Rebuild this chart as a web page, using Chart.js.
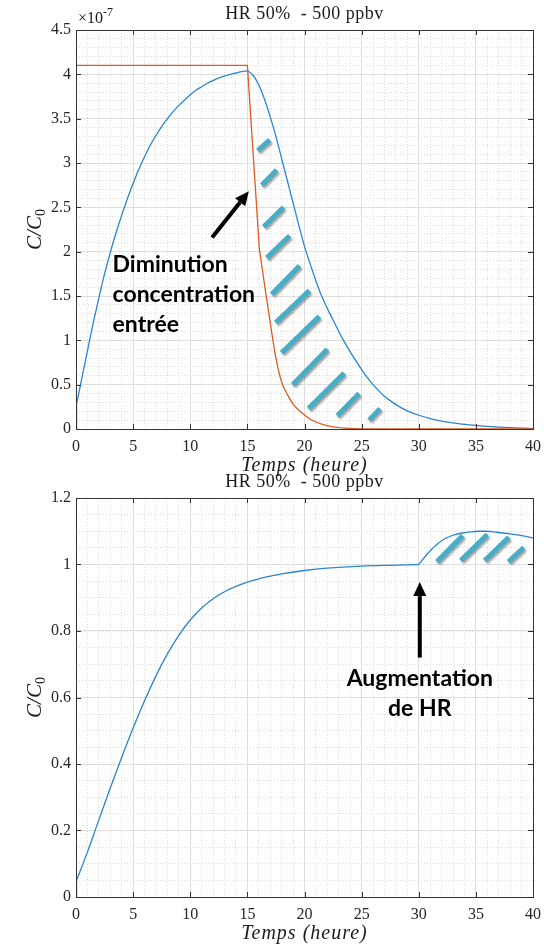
<!DOCTYPE html>
<html lang="fr">

<head>
    <meta charset="UTF-8" />
    <title>HR 50% - 500 ppbv</title>
    <script src="https://cdn.jsdelivr.net/npm/chart.js"></script>
    <style>
        body {
            margin: 0;
            background: #fff;
        }

        .page {
            position: relative;
            width: 549px;
            height: 945px;
        }

        .page canvas {
            position: absolute;
            left: 0;
        }

        #chartTop {
            top: 0;
        }

        #chartBottom {
            top: 465px;
        }
    </style>
</head>

<body>
    <div class="page">
        <canvas id="chartTop" width="549" height="480"></canvas>
        <canvas id="chartBottom" width="549" height="480"></canvas>
    </div>

    <script>
        // axis ticks
        const xTicks = [0, 5, 10, 15, 20, 25, 30, 35, 40];
        const yTicksTop = [0, 0.5, 1, 1.5, 2, 2.5, 3, 3.5, 4, 4.5]; // x 1e-7
        const yTicksBottom = [0, 0.2, 0.4, 0.6, 0.8, 1, 1.2];

        // top plot: outlet (blue), values in units of 1e-7
        const tTopStart = [0, 0.05];
        const cTopStart = [0, 0.28];
        const tTopRise = [0.05, 1, 1.5, 2, 2.5, 3, 3.5, 4, 4.5, 5, 5.5, 6, 6.5, 7, 7.5, 8, 8.5, 9, 9.5, 10, 10.5, 11, 11.5, 12, 12.5, 13, 13.5, 14, 14.5, 15];
        const cTopRise = [0.28, 0.88, 1.19, 1.48, 1.75, 1.99, 2.21, 2.41, 2.6, 2.77, 2.93, 3.07, 3.2, 3.31, 3.41, 3.5, 3.58, 3.65, 3.71, 3.77, 3.82, 3.86, 3.9, 3.93, 3.96, 3.98, 4.0, 4.015, 4.03, 4.04];
        const tTopFall = [15, 15.5, 16, 16.5, 17, 17.5, 18, 18.5, 19, 19.5, 20, 20.5, 21, 21.5, 22, 22.5, 23, 23.5, 24, 24.5, 25, 25.5, 26, 26.5, 27, 27.5, 28, 29, 30, 31, 32, 33, 34, 35, 36, 37, 38, 39, 40];
        const cTopFall = [4.04, 3.99, 3.88, 3.72, 3.52, 3.3, 3.05, 2.8, 2.55, 2.3, 2.06, 1.86, 1.67, 1.5, 1.36, 1.23, 1.1, 0.98, 0.87, 0.77, 0.67, 0.58, 0.5, 0.43, 0.37, 0.32, 0.275, 0.205, 0.155, 0.118, 0.09, 0.068, 0.052, 0.04, 0.03, 0.022, 0.015, 0.009, 0.005];

        // top plot: inlet concentration (orange)
        const tInletHold = [0, 15, 16.05];
        const cInletHold = [4.1, 4.1, 2.03];
        const tInletDecay = [16.05, 16.5, 17, 17.5, 18, 18.5, 19, 19.8, 20.5, 21.5, 22.5, 24, 26, 40];
        const cInletDecay = [2.03, 1.63, 1.2, 0.8, 0.53, 0.39, 0.28, 0.18, 0.11, 0.055, 0.025, 0.006, 0, 0];

        // bottom plot: C/C0, humidity step at 30 h
        const tBotStart = [0, 0.05];
        const cBotStart = [0, 0.05];
        const tBotRise = [0.05, 1, 2, 3, 4, 5, 6, 7, 8, 9, 10, 11, 12, 13, 14, 15, 16, 17, 18, 20, 22, 25, 28, 30];
        const cBotRise = [0.05, 0.135, 0.232, 0.328, 0.42, 0.508, 0.59, 0.665, 0.731, 0.787, 0.833, 0.869, 0.897, 0.918, 0.934, 0.947, 0.957, 0.965, 0.972, 0.982, 0.989, 0.995, 0.998, 1.0];
        const tBotBump = [30, 30.8, 31.5, 32.2, 33, 33.7, 34.5, 35.2, 36, 36.8, 38, 39, 40];
        const cBotBump = [1.0, 1.034, 1.058, 1.076, 1.088, 1.094, 1.098, 1.1, 1.1, 1.097, 1.092, 1.087, 1.08];

        // hand-drawn hatching between curves: [t1, c1, t2, c2]
        const hatchTop = [
            [15.91, 3.14, 16.96, 3.26],
            [16.26, 2.75, 17.57, 2.92],
            [16.43, 2.28, 18.17, 2.5],
            [16.7, 1.93, 18.7, 2.18],
            [17.13, 1.52, 19.57, 1.84],
            [17.48, 1.2, 20.43, 1.56],
            [18.0, 0.86, 21.3, 1.27],
            [18.96, 0.5, 22.0, 0.9],
            [20.35, 0.23, 23.48, 0.63],
            [22.87, 0.15, 24.78, 0.4],
            [25.65, 0.1, 26.61, 0.23]
        ];
        const hatchBottom = [
            [31.59, 1.008, 33.85, 1.087],
            [33.68, 1.012, 36.0, 1.09],
            [35.77, 1.012, 37.89, 1.082],
            [37.85, 1.008, 39.19, 1.051]
        ];

        const SERIF = '"Liberation Serif", "DejaVu Serif", serif';
        const BLUE = '#2a86cf';
        const ORANGE = '#de5a22';
        const HATCH = '#46aec6';

        function pts(t, c) {
            return t.map((v, i) => ({ x: v, y: c[i] }));
        }

        function drawArrow(ctx, x0, y0, x1, y1) {
            const ang = Math.atan2(y1 - y0, x1 - x0);
            const head = 14, half = 6.5;
            const bx = x1 - head * Math.cos(ang);
            const by = y1 - head * Math.sin(ang);
            ctx.save();
            ctx.strokeStyle = '#000';
            ctx.fillStyle = '#000';
            ctx.lineWidth = 4;
            ctx.beginPath();
            ctx.moveTo(x0, y0);
            ctx.lineTo(bx, by);
            ctx.stroke();
            ctx.beginPath();
            ctx.moveTo(x1, y1);
            ctx.lineTo(bx + half * Math.sin(ang), by - half * Math.cos(ang));
            ctx.lineTo(bx - half * Math.sin(ang), by + half * Math.cos(ang));
            ctx.closePath();
            ctx.fill();
            ctx.restore();
        }

        // box, inward ticks, titles and the annotations on top of the plot
        function makeFrame(cfg) {
            return {
                id: 'frame',
                afterDraw(chart) {
                    const { ctx, chartArea: a, scales } = chart;
                    const x = scales.x, y = scales.y;
                    const px = v => x.getPixelForValue(v);
                    const py = v => y.getPixelForValue(v);
                    const cx = (a.left + a.right) / 2;
                    ctx.save();

                    // hatching
                    ctx.strokeStyle = HATCH;
                    ctx.lineWidth = 5;
                    ctx.shadowColor = 'rgba(0,0,0,0.35)';
                    ctx.shadowOffsetX = 1.5;
                    ctx.shadowOffsetY = 2;
                    ctx.shadowBlur = 2;
                    cfg.hatch.forEach(h => {
                        ctx.beginPath();
                        ctx.moveTo(px(h[0]), py(h[1]));
                        ctx.lineTo(px(h[2]), py(h[3]));
                        ctx.stroke();
                    });
                    ctx.shadowColor = 'transparent';

                    // arrow + note
                    const ar = cfg.arrow;
                    drawArrow(ctx, px(ar[0]), py(ar[1]), px(ar[2]), py(ar[3]));
                    ctx.fillStyle = '#000';
                    ctx.font = 'bold 23px Lato, "Open Sans", sans-serif';
                    ctx.textAlign = cfg.note.align;
                    ctx.textBaseline = 'alphabetic';
                    cfg.note.lines.forEach((s, i) => {
                        ctx.fillText(s, px(cfg.note.at[0]), py(cfg.note.at[1]) + i * 30);
                    });

                    // inward ticks and box
                    ctx.strokeStyle = '#333';
                    ctx.lineWidth = 1;
                    ctx.beginPath();
                    xTicks.forEach(v => {
                        const p = Math.round(px(v)) + 0.5;
                        ctx.moveTo(p, a.bottom); ctx.lineTo(p, a.bottom - 5);
                        ctx.moveTo(p, a.top); ctx.lineTo(p, a.top + 5);
                    });
                    cfg.yTicks.forEach(v => {
                        const p = Math.round(py(v)) + 0.5;
                        ctx.moveTo(a.left, p); ctx.lineTo(a.left + 5, p);
                        ctx.moveTo(a.right, p); ctx.lineTo(a.right - 5, p);
                    });
                    ctx.stroke();
                    ctx.strokeRect(Math.round(a.left) + 0.5, Math.round(a.top) + 0.5,
                        Math.round(a.right - a.left), Math.round(a.bottom - a.top));

                    // plot title
                    ctx.fillStyle = '#1a1a1a';
                    ctx.textAlign = 'center';
                    ctx.textBaseline = 'middle';
                    ctx.letterSpacing = '0.5px';
                    ctx.font = '18px ' + SERIF;
                    ctx.fillText('HR 50%  - 500 ppbv', cx, a.top - 16);

                    // x title
                    ctx.letterSpacing = '1px';
                    ctx.font = 'italic 20px ' + SERIF;
                    ctx.fillText('Temps (heure)', cx, a.bottom + 37);
                    ctx.letterSpacing = '0px';

                    // y title C/C0, rotated
                    ctx.save();
                    ctx.translate(34, (a.top + a.bottom) / 2);
                    ctx.rotate(-Math.PI / 2);
                    ctx.font = 'italic 21px ' + SERIF;
                    const w1 = ctx.measureText('C/C').width;
                    ctx.font = '14px ' + SERIF;
                    const w2 = ctx.measureText('0').width;
                    ctx.textAlign = 'left';
                    ctx.textBaseline = 'alphabetic';
                    ctx.font = 'italic 21px ' + SERIF;
                    ctx.fillText('C/C', -(w1 + w2) / 2, 7);
                    ctx.font = '14px ' + SERIF;
                    ctx.fillText('0', -(w1 + w2) / 2 + w1, 11);
                    ctx.restore();

                    // axis exponent
                    if (cfg.exponent) {
                        ctx.textAlign = 'left';
                        ctx.textBaseline = 'alphabetic';
                        ctx.font = '16px ' + SERIF;
                        ctx.fillText('\u00d710', a.left + 2, a.top - 7);
                        const w = ctx.measureText('\u00d710').width;
                        ctx.font = '12px ' + SERIF;
                        ctx.fillText('-7', a.left + 2 + w, a.top - 14);
                    }
                    ctx.restore();
                }
            };
        }

        function makeChart(id, cfg) {
            const tickFont = { family: SERIF, size: 16 };
            return new Chart(document.getElementById(id), {
                type: 'line',
                data: { datasets: cfg.datasets },
                options: {
                    responsive: false,
                    animation: false,
                    layout: { padding: { top: cfg.top, right: 13, left: 0, bottom: 0 } },
                    plugins: {
                        legend: { display: false },
                        tooltip: { enabled: false },
                        title: { display: false }
                    },
                    elements: {
                        point: { radius: 0 },
                        line: { borderWidth: 1.3, fill: false }
                    },
                    scales: {
                        xMinor: {
                            type: 'linear', min: 0, max: 40, position: 'bottom',
                            ticks: { display: false, stepSize: 1 },
                            grid: { color: '#dcdcdc', drawTicks: false },
                            border: { display: false, dash: [1, 2] },
                            afterFit: s => { s.height = 0; }
                        },
                        yMinor: {
                            type: 'linear', min: 0, max: cfg.yMax, position: 'left',
                            ticks: { display: false, stepSize: cfg.yMinorStep },
                            grid: { color: '#dcdcdc', drawTicks: false },
                            border: { display: false, dash: [1, 2] },
                            afterFit: s => { s.width = 0; }
                        },
                        x: {
                            type: 'linear', min: 0, max: 40, position: 'bottom',
                            afterBuildTicks: s => { s.ticks = xTicks.map(v => ({ value: v })); },
                            ticks: { font: tickFont, color: '#262626', padding: 8, maxRotation: 0, callback: v => String(v) },
                            grid: { color: '#dedede', drawTicks: false },
                            border: { display: false },
                            afterFit: s => { s.height = cfg.xAxisHeight; }
                        },
                        y: {
                            type: 'linear', min: 0, max: cfg.yMax, position: 'left',
                            afterBuildTicks: s => { s.ticks = cfg.yTicks.map(v => ({ value: v })); },
                            ticks: { font: tickFont, color: '#262626', padding: 5, callback: v => String(v) },
                            grid: { color: '#dedede', drawTicks: false },
                            border: { display: false },
                            afterFit: s => { s.width = 76; }
                        }
                    }
                },
                plugins: [makeFrame(cfg)]
            });
        }

        makeChart('chartTop', {
            top: 30,
            xAxisHeight: 51,
            yMax: 4.5,
            yMinorStep: 0.1,
            yTicks: yTicksTop,
            exponent: true,
            hatch: hatchTop,
            arrow: [11.91, 2.16, 15.13, 2.68],
            note: { lines: ['Diminution', 'concentration', 'entrée'], at: [3.2, 1.77], align: 'left' },
            datasets: [
                { data: pts(tInletHold, cInletHold), borderColor: ORANGE },
                { data: pts(tInletDecay, cInletDecay), borderColor: ORANGE, cubicInterpolationMode: 'monotone' },
                { data: pts(tTopStart, cTopStart), borderColor: BLUE },
                { data: pts(tTopRise, cTopRise), borderColor: BLUE, cubicInterpolationMode: 'monotone' },
                { data: pts(tTopFall, cTopFall), borderColor: BLUE, cubicInterpolationMode: 'monotone' }
            ]
        });

        makeChart('chartBottom', {
            top: 33,
            xAxisHeight: 48,
            yMax: 1.2,
            yMinorStep: 0.05,
            yTicks: yTicksBottom,
            exponent: false,
            hatch: hatchBottom,
            arrow: [30.09, 0.72, 30.09, 0.947],
            note: { lines: ['Augmentation', 'de HR'], at: [30.09, 0.635], align: 'center' },
            datasets: [
                { data: pts(tBotStart, cBotStart), borderColor: BLUE },
                { data: pts(tBotRise, cBotRise), borderColor: BLUE, cubicInterpolationMode: 'monotone' },
                { data: pts(tBotBump, cBotBump), borderColor: BLUE, cubicInterpolationMode: 'monotone' }
            ]
        });
    </script>
</body>

</html>
